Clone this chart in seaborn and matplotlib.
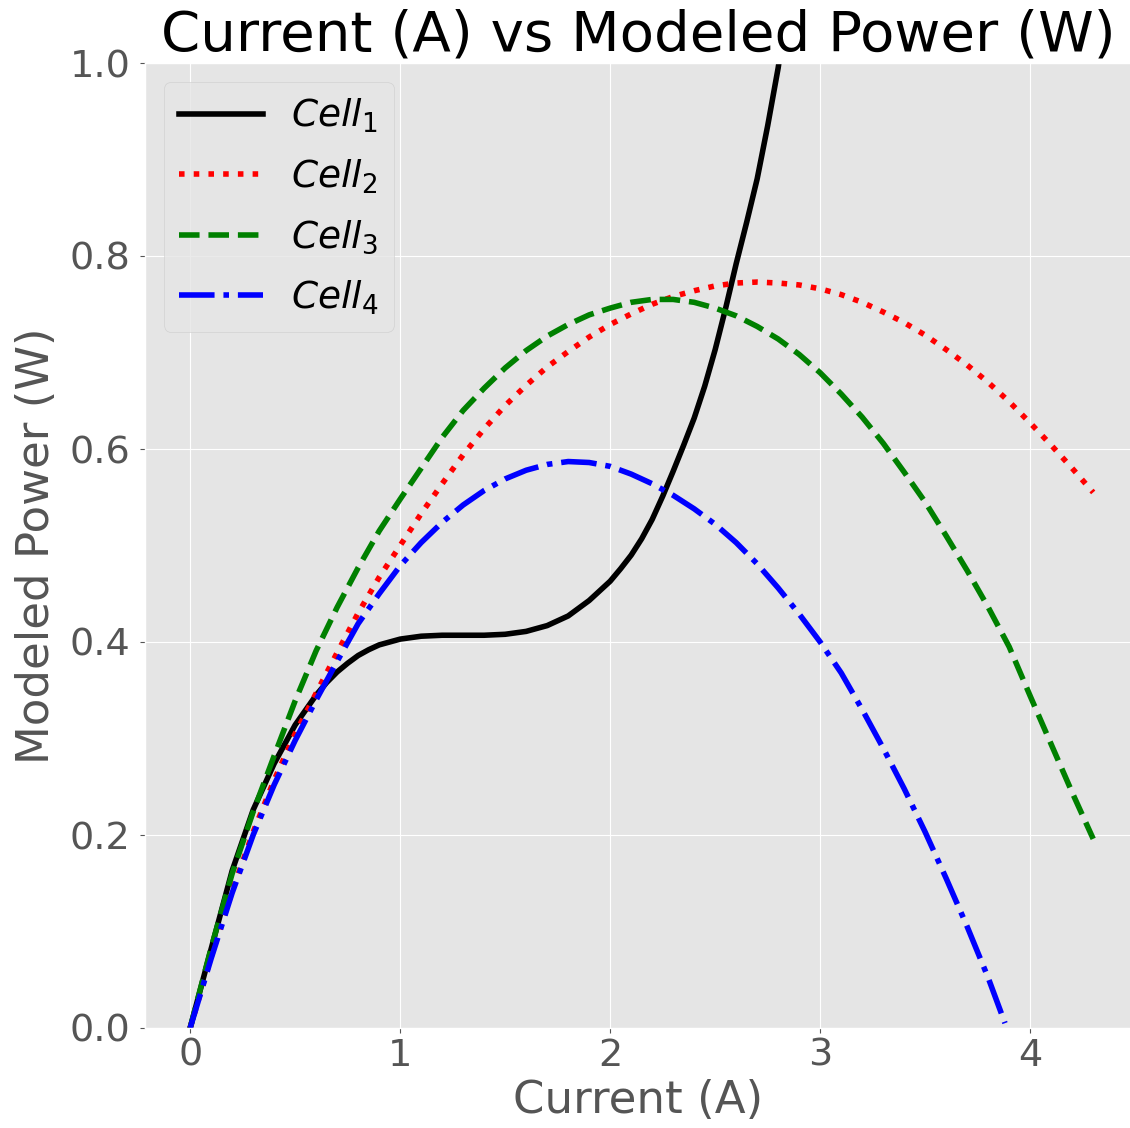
import matplotlib
matplotlib.use("Agg")
import matplotlib.pyplot as plt
import seaborn as sns
import pandas as pd

# ---- data ----
current = [0.0, 0.1, 0.2, 0.3, 0.4, 0.5, 0.6, 0.7, 0.8, 0.9,
           1.0, 1.1, 1.2, 1.3, 1.4, 1.5, 1.6, 1.7, 1.8, 1.9,
           2.0, 2.1, 2.2, 2.3, 2.4, 2.5, 2.6, 2.7, 2.8, 2.9,
           3.0, 3.1, 3.2, 3.3, 3.4, 3.5, 3.6, 3.7, 3.8, 3.9,
           4.0, 4.1, 4.2, 4.3]

cell1_current = [0.0, 0.1, 0.2, 0.3, 0.4, 0.5, 0.6, 0.65, 0.7, 0.75, 0.8, 0.85, 0.9, 0.95,
                 1.0, 1.1, 1.2, 1.3, 1.4, 1.5, 1.6, 1.7, 1.8, 1.9,
                 2.0, 2.05, 2.1, 2.15, 2.2, 2.25, 2.3, 2.35, 2.4, 2.45, 2.5, 2.55,
                 2.6, 2.65, 2.7, 2.75, 2.8, 2.85]
cell1_power = [0.000, 0.082, 0.163, 0.226, 0.274, 0.314, 0.345, 0.358, 0.369, 0.378, 0.386, 0.392, 0.397, 0.400,
               0.403, 0.406, 0.407, 0.407, 0.407, 0.408, 0.411, 0.417, 0.427, 0.443,
               0.463, 0.476, 0.490, 0.507, 0.527, 0.551, 0.577, 0.604, 0.632, 0.665, 0.703, 0.746,
               0.792, 0.835, 0.880, 0.935, 0.995, 1.070]

cell2_power = [0.000, 0.074, 0.142, 0.203, 0.257, 0.305, 0.347, 0.389, 0.430, 0.467,
               0.500, 0.533, 0.564, 0.594, 0.621, 0.645, 0.666, 0.685, 0.701, 0.716,
               0.729, 0.740, 0.750, 0.758, 0.764, 0.769, 0.772, 0.773, 0.772, 0.770,
               0.766, 0.760, 0.752, 0.742, 0.731, 0.718, 0.703, 0.687, 0.669, 0.649,
               0.627, 0.604, 0.580, 0.555]

cell3_power = [0.000, 0.083, 0.160, 0.224, 0.282, 0.339, 0.391, 0.436, 0.477, 0.515,
               0.548, 0.580, 0.612, 0.640, 0.663, 0.684, 0.702, 0.717, 0.729, 0.739,
               0.746, 0.752, 0.755, 0.755, 0.752, 0.746, 0.738, 0.727, 0.714, 0.698,
               0.679, 0.657, 0.633, 0.606, 0.576, 0.545, 0.510, 0.474, 0.436, 0.395,
               0.344, 0.294, 0.244, 0.196]

cell4_current = [0.0, 0.1, 0.2, 0.3, 0.4, 0.5, 0.6, 0.7, 0.8, 0.9,
                 1.0, 1.1, 1.2, 1.3, 1.4, 1.5, 1.6, 1.7, 1.8, 1.9,
                 2.0, 2.1, 2.2, 2.3, 2.4, 2.5, 2.6, 2.7, 2.8, 2.9,
                 3.0, 3.1, 3.2, 3.3, 3.4, 3.5, 3.6, 3.7, 3.8, 3.88]
cell4_power = [0.000, 0.072, 0.140, 0.200, 0.252, 0.298, 0.340, 0.380, 0.419, 0.450,
               0.479, 0.503, 0.524, 0.542, 0.557, 0.569, 0.578, 0.584, 0.587, 0.586,
               0.582, 0.574, 0.564, 0.552, 0.538, 0.522, 0.503, 0.481, 0.456, 0.429,
               0.400, 0.368, 0.330, 0.290, 0.248, 0.203, 0.155, 0.105, 0.052, 0.005]

labels = ["$Cell_1$", "$Cell_2$", "$Cell_3$", "$Cell_4$"]
colors = ["black", "red", "green", "blue"]
styles = ["-", ":", "--", "-."]
x_ticks = [0, 1, 2, 3, 4]
y_ticks = [0.0, 0.2, 0.4, 0.6, 0.8, 1.0]

# ---- style ----
plt.style.use("ggplot")
plt.rcParams["font.size"] = 27
plt.rcParams["font.family"] = ["DejaVu Sans"]

fig = plt.figure(figsize=(11.30, 11.28), dpi=100)
ax = fig.add_axes([145 / 1130, 100 / 1128, 986 / 1130, 965 / 1128])

series = [
    (cell1_current, cell1_power),
    (current, cell2_power),
    (current, cell3_power),
    (cell4_current, cell4_power),
]
for (xs, ys), lab, col, ls in zip(series, labels, colors, styles):
    df = pd.DataFrame({"Current": xs, "Power": ys})
    sns.lineplot(data=df, x="Current", y="Power", ax=ax, color=col,
                 linestyle=ls, linewidth=4, label=lab, estimator=None, sort=True)

ax.set_xlim(-0.215, 4.48)
ax.set_ylim(0.0, 1.0)
ax.set_xticks(x_ticks)
ax.set_yticks(y_ticks)
ax.tick_params(axis="both", labelsize=27.5)
ax.tick_params(axis="y", pad=7)
ax.set_xlabel("Current (A)", fontsize=32.5)
ax.set_ylabel("Modeled Power (W)", fontsize=32.5, labelpad=8)
ax.set_title("Current (A) vs Modeled Power (W)", fontsize=40.5)
ax.legend(loc="upper left", fontsize=27, labelspacing=0.6,
          handlelength=2.25, handletextpad=0.75)

fig.savefig("out.png", dpi=100)
